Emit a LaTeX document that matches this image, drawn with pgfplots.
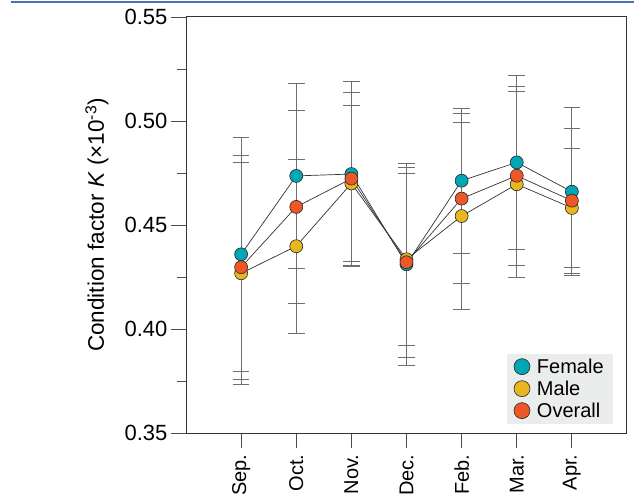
\documentclass[border=0pt]{standalone}
\usepackage{fontspec}
\setmainfont{Liberation Sans}
\usepackage{pgfplots}
\pgfplotsset{compat=1.18}
\usepackage{pgfplotstable}

\definecolor{female}{RGB}{0,166,180}
\definecolor{male}{RGB}{230,183,30}
\definecolor{overall}{RGB}{238,88,40}
\definecolor{legbg}{RGB}{235,237,236}
\definecolor{toprule}{RGB}{80,110,180}
\definecolor{errcol}{RGB}{110,110,110}

% x: month index, y: mean K, e: error
\pgfplotstableread{
x y e
0 0.4359 0.0562
1 0.4736 0.0447
2 0.4745 0.0446
3 0.4311 0.0485
4 0.4713 0.0348
5 0.4801 0.0420
6 0.4660 0.0403
}\tabF
\pgfplotstableread{
x y e
0 0.4268 0.0535
1 0.4398 0.0419
2 0.4700 0.0377
3 0.4335 0.0415
4 0.4543 0.0449
5 0.4696 0.0447
6 0.4582 0.0288
}\tabM
\pgfplotstableread{
x y e
0 0.4297 0.0538
1 0.4587 0.0464
2 0.4723 0.0415
3 0.4321 0.0456
4 0.4627 0.0410
5 0.4737 0.0431
6 0.4617 0.0348
}\tabO

\pgfplotsset{
  errs/.style={draw=none, mark=none, forget plot,
    error bars/.cd, y dir=both, y explicit,
    error bar style={draw=errcol, line width=0.8pt},
    error mark options={draw=errcol, line width=0.8pt, rotate=90, mark size=8.3pt}},
  ser/.style={black!80, line width=0.7pt, mark=*, mark size=6.5pt, forget plot,
    mark options={fill=#1, draw=black!85, line width=0.6pt}},
}

\begin{document}
\begin{tikzpicture}
\path[use as bounding box] (0,0) rectangle (634pt,495pt);
\begin{axis}[
  at={(186pt,62pt)}, anchor=south west,
  scale only axis, width=441pt, height=416pt,
  xmin=-1, xmax=7, ymin=0.35, ymax=0.55,
  xtick={0,1,2,3,4,5,6},
  xticklabels={Sep.,Oct.,Nov.,Dec.,Feb.,Mar.,Apr.},
  x tick label style={rotate=90, anchor=east, xshift=-3pt, font=\fontsize{20}{23}\selectfont},
  ytick={0.35,0.40,0.45,0.50,0.55},
  minor y tick num=1,
  yticklabel style={font=\fontsize{22}{25}\selectfont,
    /pgf/number format/.cd, fixed, fixed zerofill, precision=2},
  /pgf/number format/assume math mode=true,
  tick align=outside, tick pos=left,
  major tick length=15pt, minor tick length=9pt,
  axis line style={black!80, line width=1pt},
  every tick/.style={black!70, line width=0.8pt},
  ylabel={Condition factor \textit{K} (×10\textsuperscript{-3})},
  ylabel style={font=\fontsize{22.5}{26}\selectfont,
    at={(axis description cs:-0.202,0.5)}, anchor=center},
  legend style={at={(axis description cs:0.968,0.022)}, anchor=south east,
    fill=legbg, draw=none, font=\fontsize{20}{23}\selectfont,
    row sep=4pt, inner xsep=7pt, inner ysep=4pt, nodes={inner ysep=1pt},
    /tikz/every odd column/.append style={column sep=5pt}},
  legend cell align=left,
]
\addplot[errs] table[x=x, y=y, y error=e] {\tabF};
\addplot[errs] table[x=x, y=y, y error=e] {\tabM};
\addplot[errs] table[x=x, y=y, y error=e] {\tabO};

\addplot[ser=female] table[x=x, y=y] {\tabF};
\addplot[ser=male] table[x=x, y=y] {\tabM};
\addplot[ser=overall] table[x=x, y=y] {\tabO};

\addlegendimage{only marks, mark=*, mark size=8pt, mark options={fill=female, draw=black!85, line width=0.6pt}}
\addlegendentry{Female}
\addlegendimage{only marks, mark=*, mark size=8pt, mark options={fill=male, draw=black!85, line width=0.6pt}}
\addlegendentry{Male}
\addlegendimage{only marks, mark=*, mark size=8pt, mark options={fill=overall, draw=black!85, line width=0.6pt}}
\addlegendentry{Overall}
\end{axis}
\draw[toprule, line width=1.5pt] (11pt,493pt) -- (634pt,493pt);
\end{tikzpicture}
\end{document}
